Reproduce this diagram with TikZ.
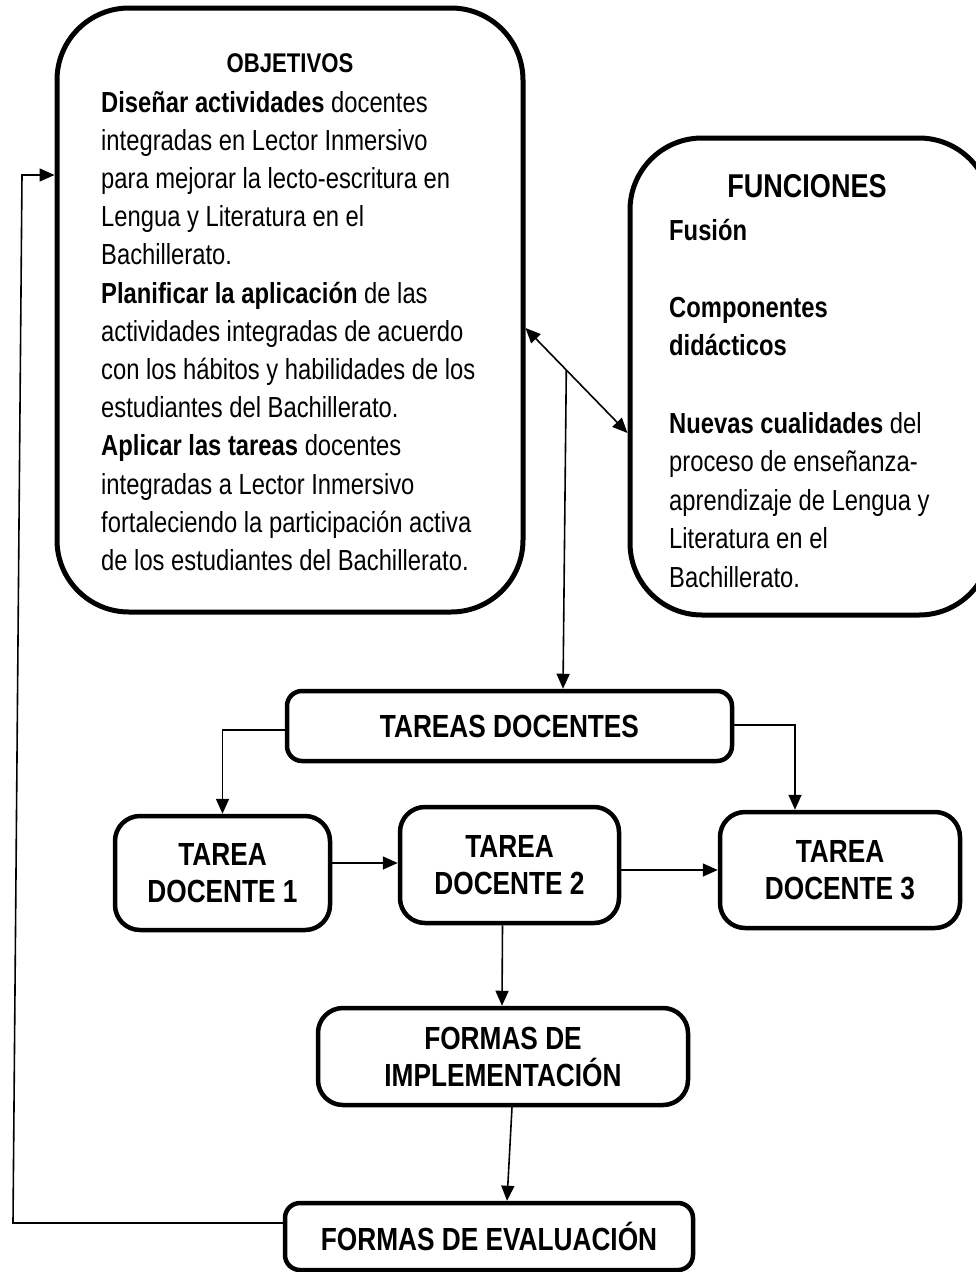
\documentclass[tikz,border=0pt]{standalone}
\usepackage{fontspec}
\setmainfont{Liberation Sans}[FakeStretch=0.82]
\usetikzlibrary{arrows.meta,calc}
\begin{document}
\begin{tikzpicture}[x=1pt,y=-1pt,
  bigbox/.style={draw, line width=5pt, rounded corners=72pt, inner sep=0pt},
  smallbox/.style={draw, line width=4.5pt, inner sep=0pt, align=center, font=\fontsize{32}{37}\selectfont\bfseries},
  tip/.tip={Triangle[length=15pt,width=13pt]},
  conn/.style={line width=1.6pt, -tip},
  dconn/.style={line width=1.6pt, tip-tip},
  body/.style={inner sep=0pt, anchor=base west},
  ttl/.style={inner sep=0pt, anchor=base},
]
\useasboundingbox (0,0) rectangle (975,1272);

% big boxes
\node[bigbox, minimum width=466pt, minimum height=604pt] (obj) at (290,310) {};
\node[bigbox, minimum width=361pt, minimum height=477pt] (fun) at (810.5,376.5) {};

\node[ttl, font=\fontsize{27}{30}\selectfont\bfseries] (objt) at (290,72) {OBJETIVOS};
\node[body, font=\fontsize{29}{38.2}\selectfont] (objb) at (101,112) {\parbox[t]{420pt}{\raggedright
\textbf{Diseñar actividades} docentes\\
integradas en Lector Inmersivo\\
para mejorar la lecto-escritura en\\
Lengua y Literatura en el\\
Bachillerato.\\
\textbf{Planificar la aplicación} de las\\
actividades integradas de acuerdo\\
con los hábitos y habilidades de los\\
estudiantes del Bachillerato.\\
\textbf{Aplicar las tareas} docentes\\
integradas a Lector Inmersivo\\
fortaleciendo la participación activa\\
de los estudiantes del Bachillerato.}};

\node[ttl, font=\fontsize{33}{36}\selectfont\bfseries] (funt) at (807,197) {FUNCIONES};
\node[body, font=\fontsize{29}{38.6}\selectfont] (funb) at (669,240) {\parbox[t]{320pt}{\raggedright
\textbf{Fusión}\\
\mbox{}\\
\textbf{Componentes}\\
\textbf{didácticos}\\
\mbox{}\\
\textbf{Nuevas cualidades} del\\
proceso de enseñanza-\\
aprendizaje de Lengua y\\
Literatura en el\\
Bachillerato.}};

% small boxes
\node[smallbox, rounded corners=15pt, minimum width=445pt, minimum height=70pt] (tareas) at (509.5,726) {TAREAS DOCENTES};
\node[smallbox, rounded corners=25pt, minimum width=215pt, minimum height=114pt] (t1) at (222.5,873) {TAREA\\DOCENTE 1};
\node[smallbox, rounded corners=25pt, minimum width=219pt, minimum height=116pt] (t2) at (509.5,865) {TAREA\\DOCENTE 2};
\node[smallbox, rounded corners=25pt, minimum width=240pt, minimum height=116pt] (t3) at (840,870) {TAREA\\DOCENTE 3};
\node[smallbox, rounded corners=25pt, minimum width=370pt, minimum height=97pt] (fdi) at (503,1056.5) {FORMAS DE\\IMPLEMENTACIÓN};
\node[smallbox, rounded corners=15pt, minimum width=408pt, minimum height=67pt] (fde) at (489,1236.5) {FORMAS DE EVALUACIÓN};

% connectors
\draw[dconn] ([yshift=-18pt]obj.east) -- ([yshift=-56.5pt]fun.west) coordinate[pos=0.4] (dv);
\draw[conn] (dv) -- ([xshift=53.5pt]tareas.north);
\draw[conn] ([yshift=-4pt]tareas.west) -| (t1.north);
\draw[conn] ([yshift=1pt]tareas.east) -| ([xshift=-45pt]t3.north);
\draw[conn] ([yshift=10pt]t1.east) -- ([yshift=10pt]t1.east -| t2.west);
\draw[conn] ([yshift=-5pt]t2.east) -- ([yshift=-5pt]t2.east -| t3.west);
\draw[conn] ([xshift=-7pt]t2.south) -- ([xshift=-1pt]fdi.north);
\draw[conn] ([xshift=9pt]fdi.south) -- ([xshift=18pt]fde.north);
\coordinate (fb1) at (13,1223);
\coordinate (fb2) at (22,175);
\draw[conn] ([yshift=13.5pt]fde.west) -- (fb1) -- (fb2) -- (fb2 -| obj.west);
\end{tikzpicture}
\end{document}
